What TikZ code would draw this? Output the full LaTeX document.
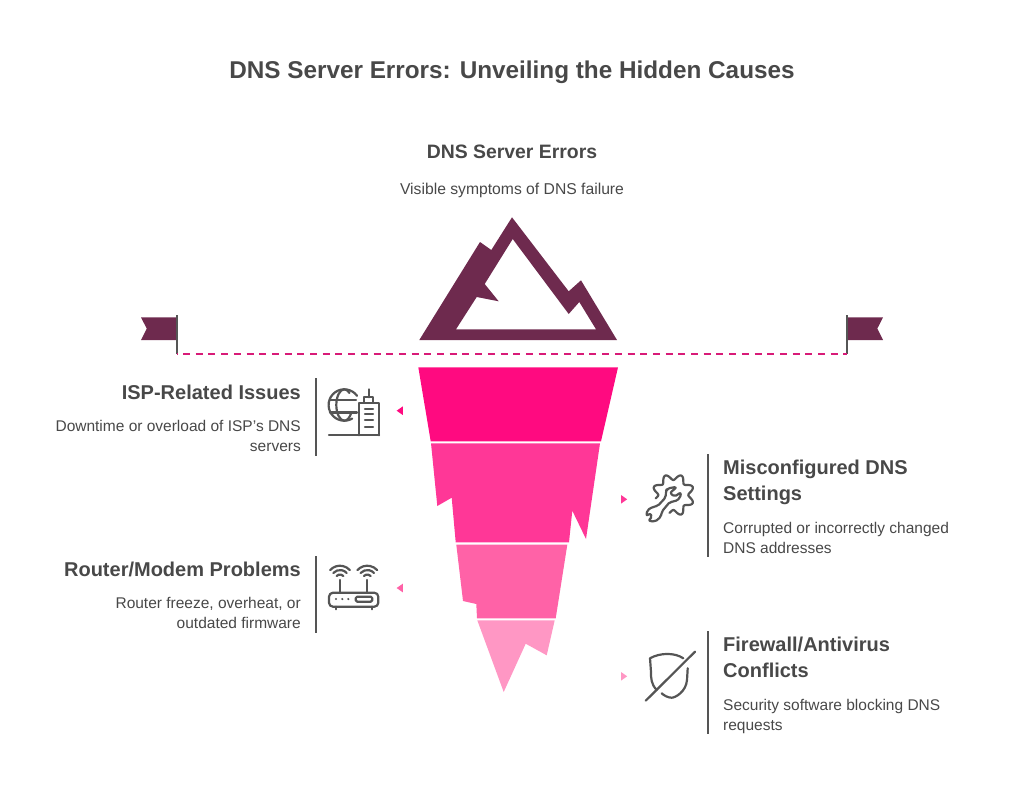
\documentclass[tikz,border=0pt]{standalone}
\usepackage{fontspec}
\setmainfont{Liberation Sans}
\definecolor{inkgrey}{HTML}{484848}
\definecolor{barcol}{HTML}{555555}
\definecolor{peakcol}{HTML}{6E2A4E}
\definecolor{dashcol}{HTML}{D81B78}
\definecolor{ice1}{HTML}{FF0A80}
\definecolor{ice2}{HTML}{FF3797}
\definecolor{ice3}{HTML}{FF62A7}
\definecolor{ice4}{HTML}{FF97C4}
\tikzset{
    titletext/.style={inner sep=0pt,text=inkgrey,font=\fontsize{24.3}{30}\selectfont\bfseries},
    headtext/.style={inner sep=0pt,text=inkgrey,font=\fontsize{20}{26}\selectfont\bfseries},
    bodytext/.style={inner sep=0pt,text=inkgrey,font=\fontsize{15.5}{20}\selectfont},
    sidebar/.style={draw=barcol,line width=2.4pt},
    icon/.style={draw=barcol,line width=2.2pt,line cap=round,line join=round},
    marker/.style={isosceles triangle,isosceles triangle apex angle=70,minimum size=0pt,inner sep=1.8pt,draw=none,fill=#1}
    }
\usetikzlibrary{shapes.geometric}

\begin{document}
\begin{tikzpicture}[x=1pt,y=-1pt]
	\useasboundingbox (0,0) rectangle (1024,809);

	\node[titletext] (title) at (512,72) {DNS Server Errors: Unveiling the Hidden Causes};
	\node[headtext,font=\fontsize{19.4}{26}\selectfont\bfseries] (peakhead) at (512,152) {DNS Server Errors};
	\node[bodytext,font=\fontsize{15.7}{20}\selectfont] (peakbody) at (512,190) {Visible symptoms of DNS failure};

	% mountain above the waterline
	\fill[peakcol,even odd rule] (419.3,340)--(480,242)--(491.3,250)--(512,217.3)--(568.7,291.3)--(581,280.3)--(617,340)--cycle
		(456,329.3)--(476.7,297)--(498.7,301.3)--(484.7,284)--(512.7,239)--(568.7,314)--(579.3,302)--(596,329.3)--cycle;

	% flags and waterline
	\coordinate (poleL) at (177,354);
	\coordinate (poleR) at (847,354);
	\fill[peakcol] (176.7,317.3)--(141,317.3)--(146.7,328.6)--(141,340)--(176.7,340)--cycle;
	\fill[peakcol] (847.3,317.3)--(883,317.3)--(877.3,328.6)--(883,340)--(847.3,340)--cycle;
	\draw[barcol,line width=2.4pt] (poleL)--++(0,-39);
	\draw[barcol,line width=2.4pt] (poleR)--++(0,-39);
	\draw[dashcol,line width=1.7pt,dash pattern=on 7pt off 5.7pt,dash phase=-6pt] (poleL)--(poleR);

	% iceberg layers
	\fill[ice1] (418.3,367.3)--(618,367.3)--(601,441.3)--(430.7,441.3)--cycle;
	\fill[ice2] (431,443.3)--(600,443.3)--(586,539)--(572.3,510.7)--(569,542.3)--(455.7,542.3)--(451.7,497.7)--(437.3,506)--cycle;
	\fill[ice3] (456.3,544.7)--(567.3,544.7)--(555.7,618.3)--(477,618.3)--(476.3,604)--(463,601)--cycle;
	\fill[ice4] (477.3,620.3)--(554.7,620.3)--(546.7,655.3)--(525.7,643.7)--(503.7,692)--cycle;

	\node[marker=ice1,shape border rotate=180] (markISP) at (401,410.7) {};
	\node[marker=ice3,shape border rotate=180] (markRouter) at (401,588) {};
	\node[marker=ice2] (markDNS) at (622.8,499.3) {};
	\node[marker=ice4] (markFW) at (622.8,676.3) {};

	% left column
	\node[headtext,anchor=east] (ispHead) at (301,392) {ISP-Related Issues};
	\node[bodytext,anchor=north east,align=right] (ispBody) at (301,420.5) {Downtime or overload of ISP's DNS\\servers};
	\draw[sidebar] (316,378)--(316,456);
	\node[headtext,anchor=east] (routerHead) at (301,569) {Router/Modem Problems};
	\node[bodytext,anchor=north east,align=right] (routerBody) at (301,597.5) {Router freeze, overheat, or\\outdated firmware};
	\draw[sidebar] (316,556)--(316,633);

	% right column
	\node[headtext,anchor=north west,align=left] (dnsHead) at (723,460) {Misconfigured DNS\\Settings};
	\node[bodytext,anchor=north west,align=left] (dnsBody) at (723,522) {Corrupted or incorrectly changed\\DNS addresses};
	\draw[sidebar] (708,454)--(708,557);
	\node[headtext,anchor=north west,align=left] (fwHead) at (723,637) {Firewall/Antivirus\\Conflicts};
	\node[bodytext,anchor=north west,align=left] (fwBody) at (723,699) {Security software blocking DNS\\requests};
	\draw[sidebar] (708,631)--(708,734);

	% globe and tower icon
	\draw[icon] (344.3,405) ++(-36:15.7) arc[start angle=-36,end angle=-300,radius=15.7];
	\draw[icon] (344.3,389.3) arc[start angle=-90,end angle=-270,x radius=8,y radius=15.7];
	\draw[icon] (344.3,389.3) arc[start angle=-90,end angle=-50,x radius=8,y radius=15.7];
	\draw[icon] (344.3,420.7) arc[start angle=90,end angle=30,x radius=8,y radius=15.7];
	\draw[icon] (330,400)--(356,400);
	\draw[icon] (330,412.5)--(357,412.5);
	\draw[icon] (329,435.3)--(379,435.3);
	\draw[icon] (359,435.3)--(359,402.7)--(379,402.7)--(379,435.3);
	\draw[icon] (364.3,402.7)--(364.3,397.3)--(373.3,397.3)--(373.3,402.7);
	\draw[icon] (369,397.3)--(369,389.3);
	\foreach \y in {409,414,420,427}
		\draw[icon] (365,\y)--(373,\y);

	% router icon
	\draw[icon,rounded corners=4pt] (329,592.7) rectangle (378.3,606.7);
	\draw[icon,rounded corners=1.5pt] (355.7,596.7) rectangle (372.3,601.7);
	\foreach \x in {340,367.3} {
		\draw[icon] (\x,592.7)--(\x,580);
		\foreach \r in {4.5,9,13.3}
			\draw[icon] (\x,579) ++(-138:\r) arc[start angle=-138,end angle=-42,radius=\r];
	}
	\foreach \x in {335.7,371.7}
		\draw[icon] (\x,606.7)--(\x,609.3);
	\foreach \x in {336,342.3,348.3}
		\fill[barcol] (\x,599) circle (1.2pt);

	% gear and wrench icon
	\draw[icon,smooth,samples=120,domain=169:462] plot ({673.3+(18-3*cos(8*\x))*cos(\x)},{495+(18-3*cos(8*\x))*sin(\x)});
	\draw[icon,rounded corners=2pt] (666,491)--(666.7,489.3)--(672,487.3)--(676.7,487.3)--(670,492.7)--(674.3,496.7)--(681,492.3)--(680,498.3)--(674.3,501.7)--(670,501.7)--(661.7,511.7)--(661,516.7)--(655,521.7)--(648.3,520.7)--(652.3,516.7)--(650,513.3)--(646.3,516)--(647.3,510)--(653.3,506.7)--(657.7,506)--(665.7,497.3)--cycle;

	% crossed shield icon
	\draw[icon] (656.7,690) .. controls (651,684) and (651,678) .. (651,672) -- (650,658.3) .. controls (660,652.5) and (675,652.5) .. (683.3,658.3);
	\draw[icon] (687.7,668.3) -- (687,680) .. controls (686,692) and (675,697.7) .. (671.7,697.7) .. controls (668,697.7) and (664,695.5) .. (661.7,693.3);
	\draw[icon] (645.7,700.7)--(695,651.7);
\end{tikzpicture}
\end{document}
